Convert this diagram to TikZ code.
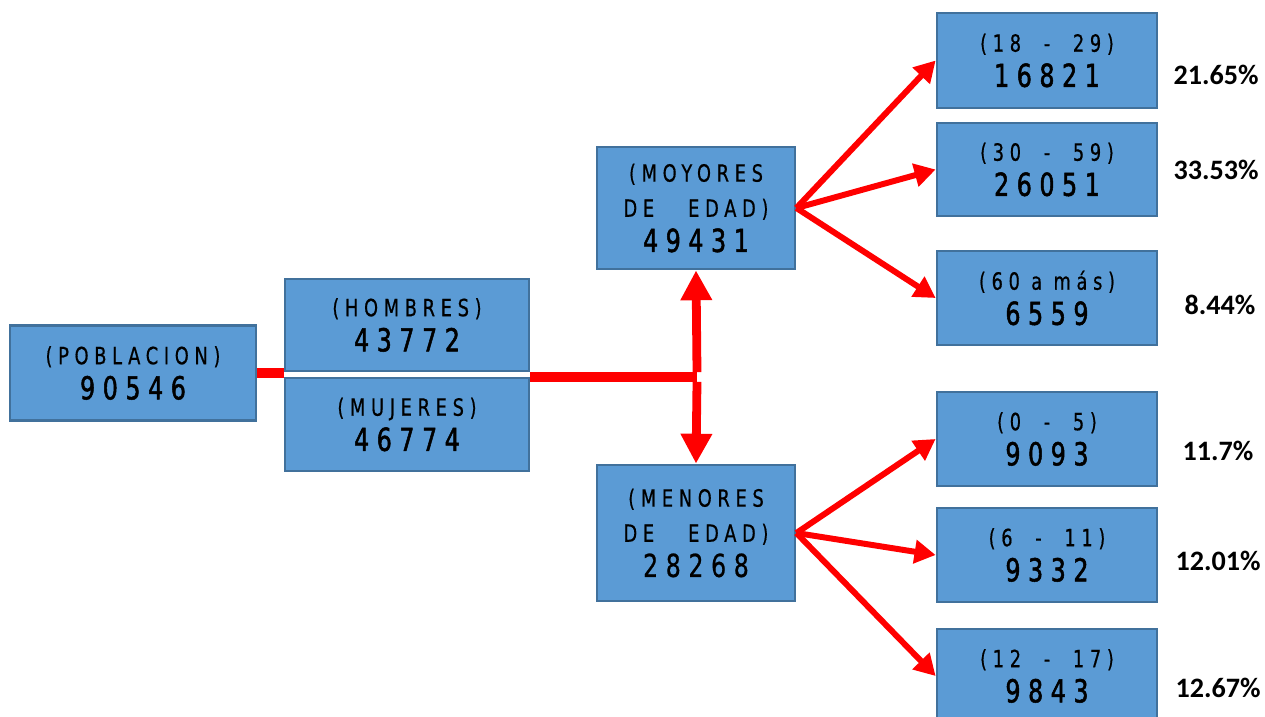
\documentclass[tikz,border=0pt]{standalone}
\usepackage{fontspec}
\setmainfont{DejaVu Sans}
\newfontfamily\labfont[LetterSpace=24, FakeStretch=0.75, FakeBold=0.6]{DejaVu Sans}
\newfontfamily\numfont[LetterSpace=24, FakeStretch=0.75, FakeBold=1.6]{DejaVu Sans}
\newfontfamily\numlfont[LetterSpace=24, FakeStretch=0.75, FakeBold=0.6]{DejaVu Sans}
\newfontfamily\pctfont{Carlito}
\usetikzlibrary{arrows.meta, calc}
\definecolor{cajafondo}{HTML}{5B9BD5}
\definecolor{cajaborde}{HTML}{41719C}
\newcommand{\lab}[1]{{\labfont\fontsize{13.5}{19}\selectfont #1}}
\newcommand{\num}[1]{{\numfont\fontsize{18}{19}\selectfont #1}}
\newcommand{\numl}[1]{{\numlfont\fontsize{18}{19}\selectfont #1}}

\begin{document}
\begin{tikzpicture}[x=0.02cm, y=-0.02cm,
    caja/.style={draw=cajaborde, fill=cajafondo, line width=1.6pt, align=center, inner sep=0pt, font=\fontsize{12}{20}\selectfont},
    flecha/.style={red, line width=3.4pt, -{Triangle[length=12pt, width=13pt]}},
    porc/.style={font=\pctfont\bfseries\fontsize{16}{19}\selectfont}]
        \useasboundingbox (0,0) rectangle (1265,717);
        \node[caja, minimum width=4.92cm, minimum height=1.9cm] (pob) at (133,373) {\lab{(POBLACION)}\\\num{90546}};
        \node[caja, minimum width=4.88cm, minimum height=1.84cm] (hom) at (407,325) {\lab{(HOMBRES)}\\\num{43772}};
        \node[caja, minimum width=4.88cm, minimum height=1.86cm] (muj) at (407,424.5) {\lab{(MUJERES)}\\\num{46774}};
        \node[caja, minimum width=3.96cm, minimum height=2.44cm] (may) at (696,208) {\lab{(MOYORES}\\\lab{DE~~~EDAD)}\\\num{49431}};
        \node[caja, minimum width=3.96cm, minimum height=2.72cm] (men) at (696,533) {\lab{(MENORES}\\\lab{DE~~~EDAD)}\\\numl{28268}};
        \node[caja, minimum width=4.4cm, minimum height=1.9cm] (e1) at (1047,60.5) {\lab{(18~~-~~29)}\\\num{16821}};
        \node[caja, minimum width=4.4cm, minimum height=1.86cm] (e2) at (1047,169.5) {\lab{(30~~-~~59)}\\\num{26051}};
        \node[caja, minimum width=4.4cm, minimum height=1.88cm] (e3) at (1047,298) {\lab{(60 a más)}\\\num{6559}};
        \node[caja, minimum width=4.4cm, minimum height=1.88cm] (e4) at (1047,439) {\lab{(0~~-~~5)}\\\num{9093}};
        \node[caja, minimum width=4.4cm, minimum height=1.88cm] (e5) at (1047,555) {\lab{(6~~-~~11)}\\\num{9332}};
        \node[caja, minimum width=4.4cm, minimum height=1.88cm] (e6) at (1047,676) {\lab{(12~~-~~17)}\\\num{9843}};
        \node[porc] (p1) at (1216,75) {21.65\%};
        \node[porc] (p2) at (1216,170) {33.53\%};
        \node[porc] (p3) at (1220,305) {8.44\%};
        \node[porc] (p4) at (1218,451) {11.7\%};
        \node[porc] (p5) at (1218,561) {12.01\%};
        \node[porc] (p6) at (1218,688) {12.67\%};
        \coordinate (cruce) at (697,377);
        \draw[red, line width=5.7pt] (pob.east) -- (pob.east -| hom.west);
        \draw[red, line width=5.7pt] (hom.east |- cruce) -- (cruce);
        \draw[red, line width=5pt, -{Triangle[length=17pt, width=17pt]}] ([yshift=2.8pt]cruce) -- (may.south);
        \draw[red, line width=5pt, -{Triangle[length=17pt, width=17pt]}] ([yshift=-2.8pt]cruce) -- (men.north);
        \foreach \e in {e1,e2,e3}
            \draw[flecha] (may.east) -- (\e.west);
        \foreach \e in {e4,e5,e6}
            \draw[flecha] (men.east) -- (\e.west);
    \end{tikzpicture}
\end{document}
